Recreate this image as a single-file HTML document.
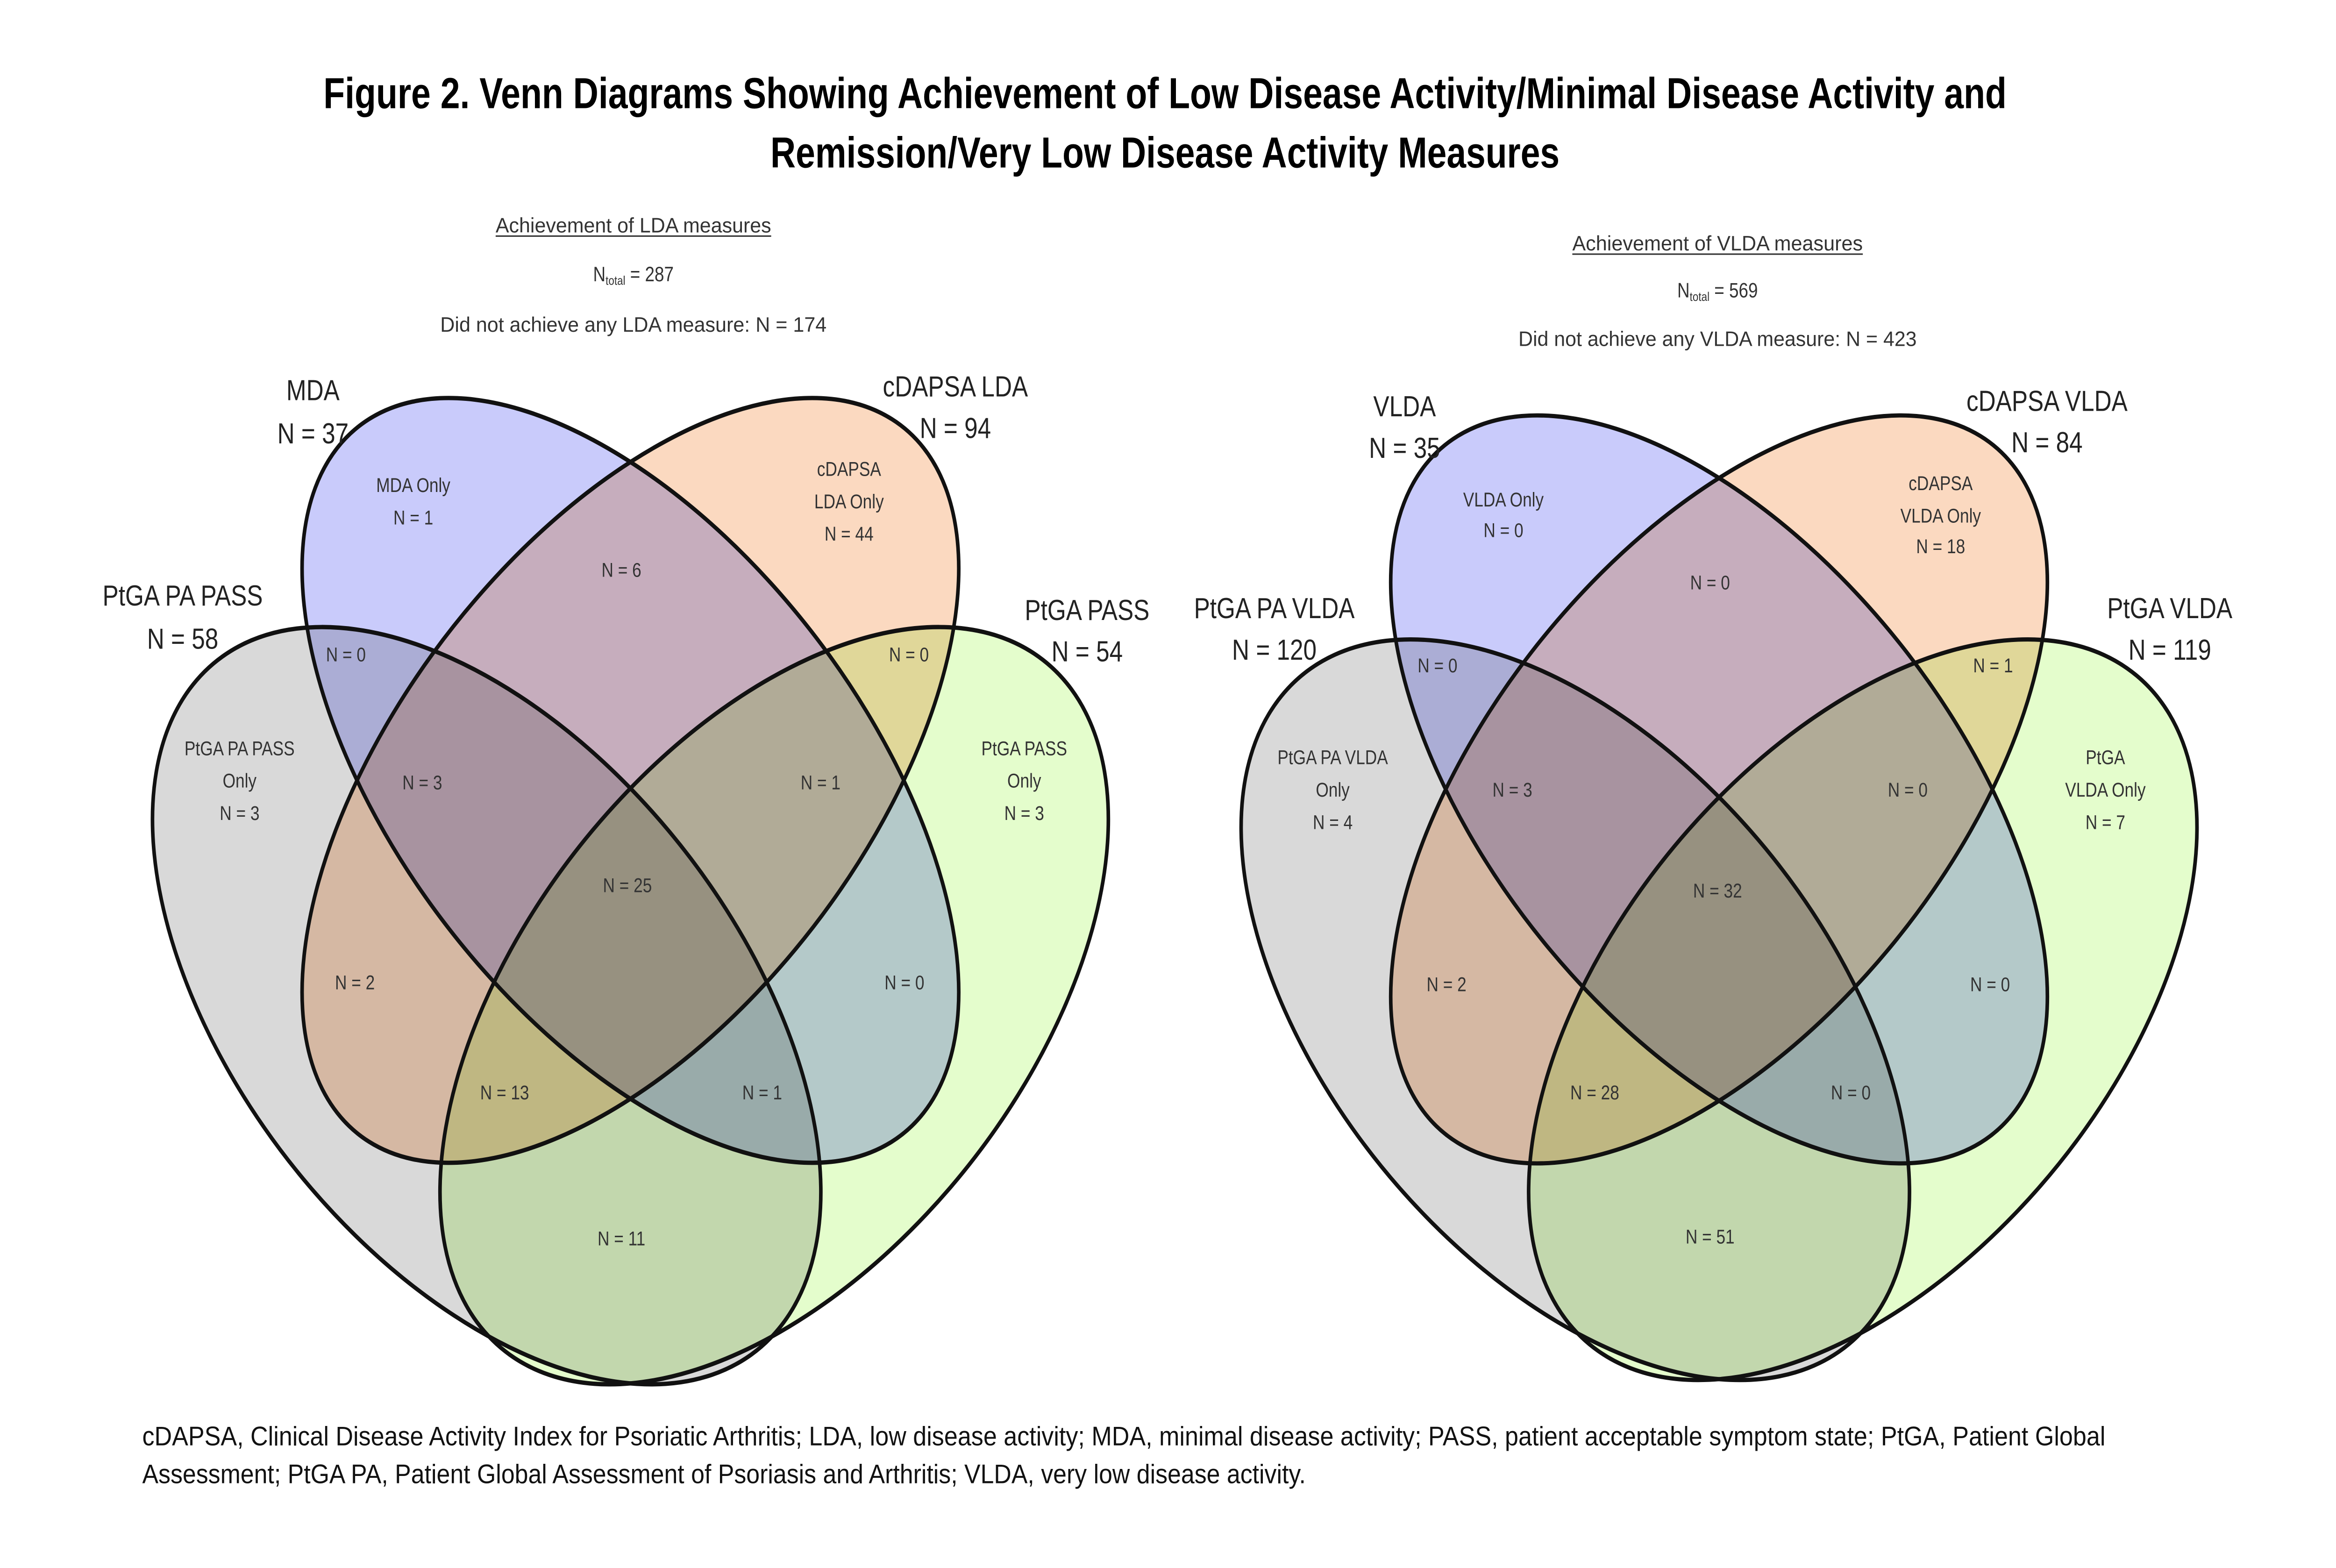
<!DOCTYPE html>
<html><head><meta charset="utf-8"><style>
html,body{margin:0;padding:0;background:#fff;width:100vw;height:100vh;overflow:hidden;}
svg{display:block;width:100vw;height:100vh;}
text{font-family:"Liberation Sans",sans-serif;fill:#222;}
.t{font-weight:bold;font-size:24px;fill:#000;}
.set{font-size:16px;fill:#222;}
.reg{font-size:11px;fill:#333;}
.sub{font-size:11.5px;fill:#333;}
.fn{font-size:15px;fill:#111;}
.sh{mix-blend-mode:multiply;stroke:none;}
.ol{fill:none;stroke:#111;stroke-width:2.4;}
</style></head><body>
<svg viewBox="0 0 1560 870" preserveAspectRatio="none" xmlns="http://www.w3.org/2000/svg">
<defs>
<g id="shapes">
  <ellipse class="sh" cx="-96" cy="125" rx="265" ry="154" transform="rotate(41.5 -96 125)" fill="#d9d9d9"/>
  <ellipse class="sh" cx="96" cy="125" rx="265" ry="154" transform="rotate(-41.5 96 125)" fill="#e4fdcc"/>
  <ellipse class="sh" cx="0" cy="0" rx="269" ry="144" transform="rotate(43.3)" fill="#c9cbfb"/>
  <ellipse class="sh" cx="0" cy="0" rx="269" ry="144" transform="rotate(-43.3)" fill="#fbd9c0"/>
  <ellipse class="ol" cx="-96" cy="125" rx="265" ry="154" transform="rotate(41.5 -96 125)"/>
  <ellipse class="ol" cx="96" cy="125" rx="265" ry="154" transform="rotate(-41.5 96 125)"/>
  <ellipse class="ol" cx="0" cy="0" rx="269" ry="144" transform="rotate(43.3)"/>
  <ellipse class="ol" cx="0" cy="0" rx="269" ry="144" transform="rotate(-43.3)"/>
</g>
</defs>
<rect width="1560" height="870" fill="#fff"/>
<text class="t" x="778" y="60" text-anchor="middle" textLength="1124" lengthAdjust="spacingAndGlyphs">Figure 2. Venn Diagrams Showing Achievement of Low Disease Activity/Minimal Disease Activity and</text>
<text class="t" x="778" y="93" text-anchor="middle" textLength="527" lengthAdjust="spacingAndGlyphs">Remission/Very Low Disease Activity Measures</text>

<g>
<use href="#shapes" transform="translate(421,433)"/>
<text class="sub" x="423" y="129" text-anchor="middle" textLength="184" lengthAdjust="spacingAndGlyphs">Achievement of LDA measures</text>
<line x1="331" y1="131" x2="515" y2="131" stroke="#333" stroke-width="0.8"/>
<text class="sub" x="423" y="156" text-anchor="middle">N<tspan font-size="7" dy="2">total</tspan><tspan dy="-2"> = 287</tspan></text>
<text class="sub" x="423" y="184" text-anchor="middle" textLength="258" lengthAdjust="spacingAndGlyphs">Did not achieve any LDA measure: N = 174</text>
<g text-anchor="middle">
<text class="set" x="209" y="222">MDA</text>
<text class="set" x="209" y="246">N = 37</text>
<text class="set" x="638" y="220">cDAPSA LDA</text>
<text class="set" x="638" y="243">N = 94</text>
<text class="set" x="122" y="336">PtGA PA PASS</text>
<text class="set" x="122" y="360">N = 58</text>
<text class="set" x="726" y="344">PtGA PASS</text>
<text class="set" x="726" y="367">N = 54</text>
</g>
<g text-anchor="middle">
<text class="reg" x="276" y="273">MDA Only</text><text class="reg" x="276" y="291">N = 1</text>
<text class="reg" x="567" y="264">cDAPSA</text><text class="reg" x="567" y="282">LDA Only</text><text class="reg" x="567" y="300">N = 44</text>
<text class="reg" x="415" y="320">N = 6</text>
<text class="reg" x="231" y="367">N = 0</text>
<text class="reg" x="607" y="367">N = 0</text>
<text class="reg" x="160" y="419">PtGA PA PASS</text><text class="reg" x="160" y="437">Only</text><text class="reg" x="160" y="455">N = 3</text>
<text class="reg" x="282" y="438">N = 3</text>
<text class="reg" x="548" y="438">N = 1</text>
<text class="reg" x="684" y="419">PtGA PASS</text><text class="reg" x="684" y="437">Only</text><text class="reg" x="684" y="455">N = 3</text>
<text class="reg" x="419" y="495">N = 25</text>
<text class="reg" x="237" y="549">N = 2</text>
<text class="reg" x="604" y="549">N = 0</text>
<text class="reg" x="337" y="610">N = 13</text>
<text class="reg" x="509" y="610">N = 1</text>
<text class="reg" x="415" y="691">N = 11</text>
</g>
</g>

<g>
<use href="#shapes" transform="translate(1148,438) scale(1,0.978)"/>
<text class="sub" x="1147" y="139" text-anchor="middle" textLength="194" lengthAdjust="spacingAndGlyphs">Achievement of VLDA measures</text>
<line x1="1050" y1="141" x2="1244" y2="141" stroke="#333" stroke-width="0.8"/>
<text class="sub" x="1147" y="165" text-anchor="middle">N<tspan font-size="7" dy="2">total</tspan><tspan dy="-2"> = 569</tspan></text>
<text class="sub" x="1147" y="192" text-anchor="middle" textLength="266" lengthAdjust="spacingAndGlyphs">Did not achieve any VLDA measure: N = 423</text>
<g text-anchor="middle">
<text class="set" x="938" y="231">VLDA</text>
<text class="set" x="938" y="254">N = 35</text>
<text class="set" x="1367" y="228">cDAPSA VLDA</text>
<text class="set" x="1367" y="251">N = 84</text>
<text class="set" x="851" y="343">PtGA PA VLDA</text>
<text class="set" x="851" y="366">N = 120</text>
<text class="set" x="1449" y="343">PtGA VLDA</text>
<text class="set" x="1449" y="366">N = 119</text>
</g>
<g text-anchor="middle">
<text class="reg" x="1004" y="281">VLDA Only</text><text class="reg" x="1004" y="298">N = 0</text>
<text class="reg" x="1296" y="272">cDAPSA</text><text class="reg" x="1296" y="290">VLDA Only</text><text class="reg" x="1296" y="307">N = 18</text>
<text class="reg" x="1142" y="327">N = 0</text>
<text class="reg" x="960" y="373">N = 0</text>
<text class="reg" x="1331" y="373">N = 1</text>
<text class="reg" x="890" y="424">PtGA PA VLDA</text><text class="reg" x="890" y="442">Only</text><text class="reg" x="890" y="460">N = 4</text>
<text class="reg" x="1010" y="442">N = 3</text>
<text class="reg" x="1274" y="442">N = 0</text>
<text class="reg" x="1406" y="424">PtGA</text><text class="reg" x="1406" y="442">VLDA Only</text><text class="reg" x="1406" y="460">N = 7</text>
<text class="reg" x="1147" y="498">N = 32</text>
<text class="reg" x="966" y="550">N = 2</text>
<text class="reg" x="1329" y="550">N = 0</text>
<text class="reg" x="1065" y="610">N = 28</text>
<text class="reg" x="1236" y="610">N = 0</text>
<text class="reg" x="1142" y="690">N = 51</text>
</g>
</g>

<text class="fn" x="95" y="802" textLength="1311" lengthAdjust="spacingAndGlyphs">cDAPSA, Clinical Disease Activity Index for Psoriatic Arthritis;  LDA, low disease activity; MDA, minimal disease activity; PASS, patient acceptable symptom state; PtGA, Patient Global</text>
<text class="fn" x="95" y="823" textLength="777" lengthAdjust="spacingAndGlyphs">Assessment; PtGA PA, Patient Global Assessment of Psoriasis and Arthritis; VLDA, very low disease activity.</text>
</svg>
</body></html>
